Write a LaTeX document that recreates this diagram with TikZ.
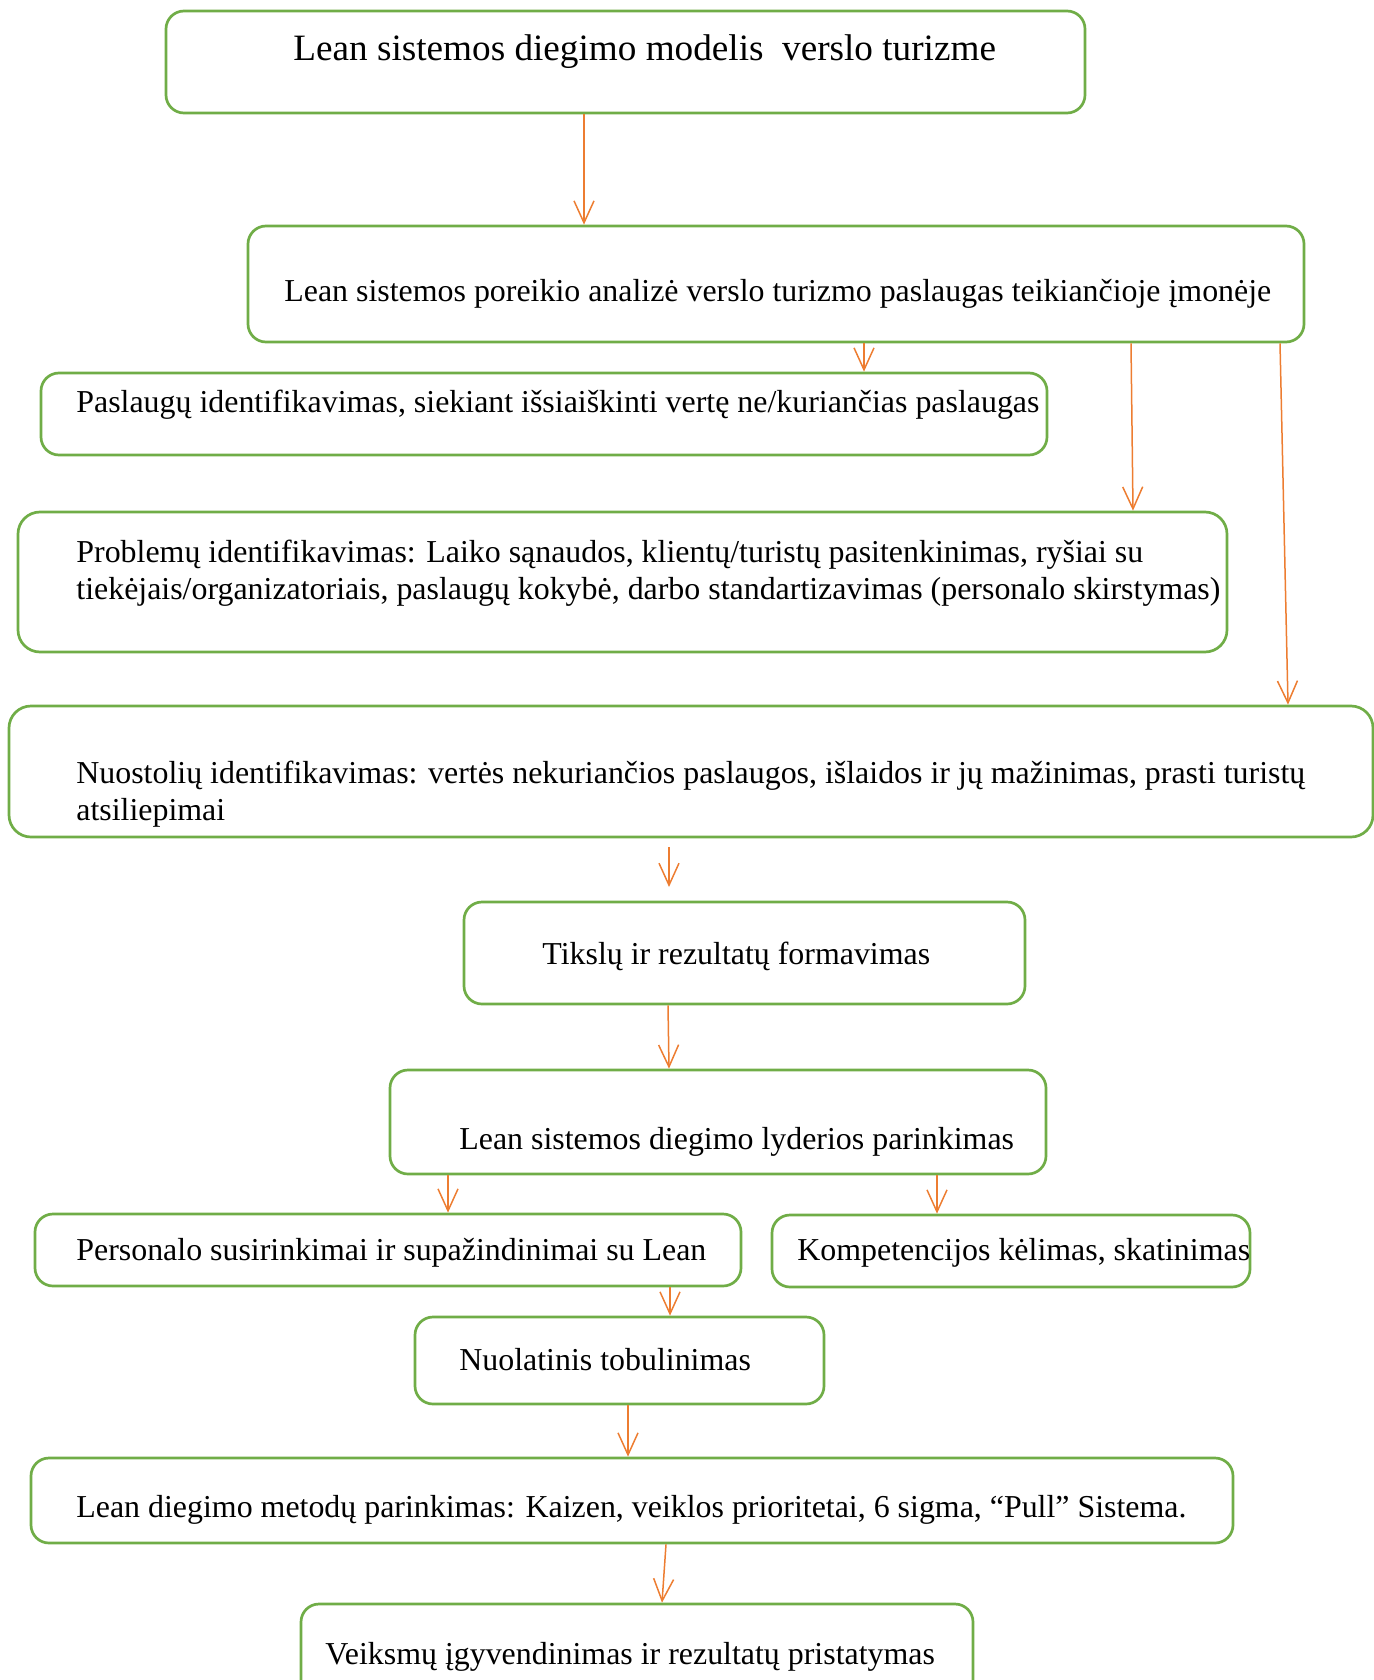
\documentclass[tikz,border=0pt]{standalone}
\usepackage{fontspec}
\setmainfont{Liberation Serif}
\usetikzlibrary{arrows.meta,fit}
\definecolor{boxgreen}{HTML}{70AD47}
\definecolor{arrorange}{HTML}{ED7D31}
\tikzset{
  box/.style={draw=boxgreen, line width=1.35pt, rounded corners=9pt, inner sep=0pt},
  txt/.style={inner sep=0pt, anchor=mid west, font=\fontsize{15.95}{18.5}\selectfont},
  txttwo/.style={inner sep=0pt, anchor=west, align=left, font=\fontsize{15.95}{18.5}\selectfont},
  ttl/.style={inner sep=0pt, anchor=mid west, font=\fontsize{18.6}{22}\selectfont},
  arr/.style={draw=arrorange, line width=0.75pt, -{Straight Barb[length=11pt,width=10pt]}}
}
\begin{document}
\begin{tikzpicture}[x=0.5pt,y=-0.5pt]
\useasboundingbox (0,0) rectangle (1374,1680);
\clip (0,0) rectangle (1374,1680);

% boxes
\node[box, fit={(166,11) (1085,113)}] (b1) {};
\node[box, fit={(248,226) (1304,342)}] (b2) {};
\node[box, fit={(41,373) (1047,455)}] (b3) {};
\node[box, rounded corners=11pt, fit={(18,512) (1227,652)}] (b4) {};
\node[box, rounded corners=11pt, fit={(9,706) (1373,837)}] (b5) {};
\node[box, fit={(464,902) (1025,1004)}] (b6) {};
\node[box, fit={(390,1070) (1046,1174)}] (b7) {};
\node[box, fit={(35,1214) (741,1286)}] (b8) {};
\node[box, fit={(772,1215) (1250,1287)}] (b9) {};
\node[box, fit={(415,1317) (824,1404)}] (b10) {};
\node[box, fit={(31,1458) (1233,1543)}] (b11) {};
\node[box, fit={(301,1604) (973,1730)}] (b12) {};

% texts
\node[ttl] (t1) at (293,56) {Lean sistemos diegimo modelis\ \ verslo turizme};
\node[txt] (t2) at (284,297) {Lean sistemos poreikio analizė verslo turizmo paslaugas teikiančioje įmonėje};
\node[txt] (t3) at (76,408) {Paslaugų identifikavimas, siekiant išsiaiškinti vertę ne/kuriančias paslaugas};
\node[txttwo] (t4) at (76,573) {Problemų identifikavimas: Laiko sąnaudos, klientų/turistų pasitenkinimas, ryšiai su\\tiekėjais/organizatoriais, paslaugų kokybė, darbo standartizavimas (personalo skirstymas)};
\node[txttwo] (t5) at (76,794) {Nuostolių identifikavimas: vertės nekuriančios paslaugos, išlaidos ir jų mažinimas, prasti turistų\\atsiliepimai};
\node[txt] (t6) at (542,960) {Tikslų ir rezultatų formavimas};
\node[txt] (t7) at (459,1145) {Lean sistemos diegimo lyderios parinkimas};
\node[txt] (t8) at (76,1256) {Personalo susirinkimai ir supažindinimai su Lean};
\node[txt] (t9) at (797,1256) {Kompetencijos kėlimas, skatinimas};
\node[txt] (t10) at (459,1366) {Nuolatinis tobulinimas};
\node[txt] (t11) at (76,1513) {Lean diegimo metodų parinkimas: Kaizen, veiklos prioritetai, 6 sigma, “Pull” Sistema.};
\node[txt] (t12) at (325,1660) {Veiksmų įgyvendinimas ir rezultatų pristatymas};

% connectors
\draw[arr] (b1.south -| 584,0) -- (b2.north -| 584,0);
\draw[arr] (b2.south -| 864,0) -- (b3.north -| 864,0);
\draw[arr] (b2.south -| 1131,0) -- (b4.north -| 1133,0);
\draw[arr] (b2.south -| 1280,0) -- (b5.north -| 1288,0);
\coordinate (e1) at (669,847);
\coordinate (e2) at (669,887);
\draw[arr] (e1) -- (e2);
\draw[arr] (b6.south -| 668,0) -- (b7.north -| 669,0);
\draw[arr] (b7.south -| 448,0) -- (b8.north -| 448,0);
\draw[arr] (b7.south -| 937,0) -- (b9.north -| 937,0);
\draw[arr] (b8.south -| 670,0) -- (b10.north -| 670,0);
\draw[arr] (b10.south -| 628,0) -- (b11.north -| 628,0);
\draw[arr] (b11.south -| 666,0) -- (b12.north -| 662,0);
\end{tikzpicture}
\end{document}
